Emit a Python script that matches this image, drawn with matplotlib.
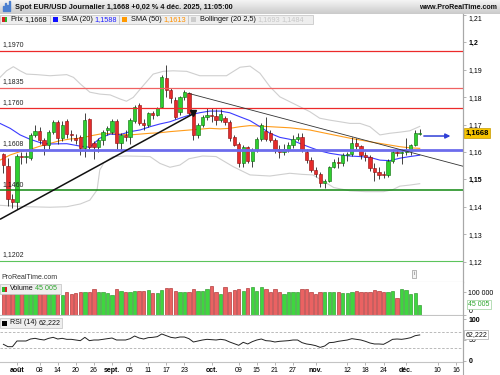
import numpy as np
import matplotlib.pyplot as plt
import matplotlib.transforms as mtrans
from matplotlib.colors import LinearSegmentedColormap
from matplotlib.patches import Rectangle

plt.rcParams['font.family'] = ['Liberation Sans', 'DejaVu Sans']

# ---- values (one candle per trading day, 29 juil. -> 4 déc.) ----
opens = [1.1592, 1.1550, 1.1428, 1.1418, 1.1586, 1.1580, 1.1577, 1.1662, 1.1677, 1.1643,
         1.1625, 1.1674, 1.1710, 1.1650, 1.1712, 1.1667, 1.1650, 1.1656, 1.1613, 1.1719,
         1.1631, 1.1617, 1.1643, 1.1680, 1.1674, 1.1713, 1.1631, 1.1662, 1.1653, 1.1713,
         1.1771, 1.1704, 1.1697, 1.1741, 1.1735, 1.1765, 1.1869, 1.1826, 1.1789, 1.1745,
         1.1801, 1.1814, 1.1741, 1.1662, 1.1698, 1.1728, 1.1733, 1.1730, 1.1718, 1.1723,
         1.1710, 1.1653, 1.1629, 1.1561, 1.1617, 1.1568, 1.1607, 1.1646, 1.1678, 1.1668,
         1.1643, 1.1609, 1.1600, 1.1612, 1.1625, 1.1648, 1.1656, 1.1601, 1.1570, 1.1534,
         1.1519, 1.1485, 1.1494, 1.1546, 1.1564, 1.1560, 1.1589, 1.1592, 1.1631, 1.1620,
         1.1590, 1.1581, 1.1540, 1.1527, 1.1519, 1.1515, 1.1566, 1.1600, 1.1596, 1.1598,
         1.1604, 1.1625, 1.1665]
highs = [1.1597, 1.1578, 1.1448, 1.1592, 1.1598, 1.1600, 1.1668, 1.1700, 1.1690, 1.1650,
         1.1680, 1.1718, 1.1718, 1.1712, 1.1720, 1.1680, 1.1665, 1.1662, 1.1743, 1.1722,
         1.1640, 1.1650, 1.1680, 1.1695, 1.1720, 1.1720, 1.1670, 1.1680, 1.1725, 1.1770,
         1.1780, 1.1720, 1.1745, 1.1750, 1.1765, 1.1880, 1.1918, 1.1835, 1.1800, 1.1805,
         1.1825, 1.1820, 1.1745, 1.1705, 1.1735, 1.1760, 1.1760, 1.1755, 1.1755, 1.1730,
         1.1715, 1.1660, 1.1635, 1.1625, 1.1620, 1.1615, 1.1655, 1.1705, 1.1726, 1.1680,
         1.1650, 1.1625, 1.1630, 1.1635, 1.1660, 1.1670, 1.1668, 1.1610, 1.1580, 1.1545,
         1.1525, 1.1500, 1.1550, 1.1575, 1.1580, 1.1595, 1.1600, 1.1655, 1.1652, 1.1625,
         1.1600, 1.1588, 1.1560, 1.1545, 1.1530, 1.1575, 1.1610, 1.1610, 1.1610, 1.1652,
         1.1630, 1.1680, 1.1684]
lows = [1.1522, 1.1402, 1.1395, 1.1390, 1.1555, 1.1558, 1.1570, 1.1655, 1.1630, 1.1590,
        1.1610, 1.1665, 1.1630, 1.1640, 1.1650, 1.1640, 1.1630, 1.1590, 1.1582, 1.1610,
        1.1573, 1.1600, 1.1625, 1.1660, 1.1665, 1.1610, 1.1605, 1.1640, 1.1630, 1.1705,
        1.1700, 1.1680, 1.1690, 1.1720, 1.1730, 1.1760, 1.1800, 1.1780, 1.1720, 1.1735,
        1.1790, 1.1735, 1.1643, 1.1650, 1.1690, 1.1715, 1.1710, 1.1700, 1.1710, 1.1700,
        1.1640, 1.1620, 1.1546, 1.1545, 1.1560, 1.1545, 1.1600, 1.1640, 1.1640, 1.1635,
        1.1595, 1.1578, 1.1590, 1.1600, 1.1615, 1.1640, 1.1600, 1.1560, 1.1525, 1.1510,
        1.1471, 1.1468, 1.1490, 1.1540, 1.1540, 1.1550, 1.1565, 1.1585, 1.1610, 1.1575,
        1.1565, 1.1530, 1.1492, 1.1502, 1.1505, 1.1510, 1.1560, 1.1585, 1.1555, 1.1590,
        1.1590, 1.1620, 1.1660]
closes = [1.1552, 1.1428, 1.1418, 1.1586, 1.1580, 1.1584, 1.1662, 1.1677, 1.1643, 1.1625,
          1.1674, 1.1710, 1.1650, 1.1700, 1.1667, 1.1662, 1.1645, 1.1613, 1.1716, 1.1619,
          1.1617, 1.1643, 1.1674, 1.1686, 1.1713, 1.1631, 1.1662, 1.1653, 1.1716, 1.1765,
          1.1704, 1.1697, 1.1741, 1.1735, 1.1759, 1.1874, 1.1826, 1.1796, 1.1728, 1.1801,
          1.1817, 1.1741, 1.1662, 1.1698, 1.1728, 1.1733, 1.1730, 1.1718, 1.1740, 1.1710,
          1.1650, 1.1625, 1.1561, 1.1617, 1.1568, 1.1607, 1.1646, 1.1698, 1.1648, 1.1643,
          1.1609, 1.1600, 1.1612, 1.1625, 1.1648, 1.1656, 1.1607, 1.1570, 1.1534, 1.1519,
          1.1485, 1.1494, 1.1546, 1.1564, 1.1560, 1.1589, 1.1592, 1.1631, 1.1620, 1.1590,
          1.1581, 1.1540, 1.1527, 1.1515, 1.1515, 1.1566, 1.1600, 1.1596, 1.1598, 1.1606,
          1.1625, 1.1668, 1.1668]

# volume in thousands
volumes = [94, 94, 94, 94, 94, 94, 94, 94, 94, 94,
           94, 94, 94, 87, 99, 91, 94, 99, 99, 99,
           112, 99, 99, 94, 87, 113, 104, 99, 99, 106,
           106, 104, 109, 94, 94, 109, 116, 116, 104, 99,
           101, 99, 113, 104, 104, 112, 126, 99, 91, 120,
           99, 109, 112, 104, 116, 120, 106, 120, 113, 101,
           112, 99, 91, 99, 99, 99, 113, 112, 99, 90,
           99, 99, 99, 99, 99, 94, 94, 99, 106, 99,
           99, 101, 109, 106, 101, 99, 104, 72, 113, 109,
           91, 94, 45.005]

rsi = [39.6, 33.9, 33.9, 47.6, 47.6, 47.6, 52.4, 54.0, 51.6, 50.0,
       54.0, 56.4, 52.4, 54.0, 51.6, 51.6, 50.0, 48.4, 56.4, 48.4,
       50.0, 50.0, 51.6, 53.2, 54.8, 50.0, 50.0, 50.0, 53.2, 59.6,
       54.8, 52.4, 55.6, 56.4, 58.0, 64.5, 60.4, 56.4, 54.8, 57.2,
       57.2, 53.2, 45.2, 47.6, 50.0, 51.6, 50.8, 50.0, 51.6, 50.0,
       45.2, 41.2, 37.2, 44.4, 40.4, 46.0, 50.0, 52.4, 48.4, 47.6,
       45.2, 46.8, 47.6, 48.4, 50.0, 50.0, 43.6, 40.4, 38.8, 36.4,
       32.3, 35.5, 43.6, 44.4, 46.8, 48.4, 50.0, 53.2, 51.6, 50.0,
       46.8, 42.8, 40.4, 40.4, 39.6, 45.2, 51.6, 52.4, 51.6, 53.2,
       55.6, 60.4, 62.2]

# indicator curves, sampled along the candle index
sma20_x = [-0.75, 1.5, 3.7, 5.9, 8.1, 10.3, 14, 17, 19.1, 21.3, 23.6, 25.8, 28, 30.2,
           32.4, 34.6, 36.8, 39, 41.2, 43.4, 45.6, 47.9, 50, 52.3, 54.5, 56.7, 58.9,
           61.1, 63.3, 65.5, 67.7, 69.9, 72.1, 74.4, 76.6, 78.8, 81, 83.2, 85.4, 87.6,
           89.8, 92]
sma20 = [1.1704, 1.1686, 1.1662, 1.1646, 1.1634, 1.1629, 1.1630, 1.1621, 1.1617, 1.1650,
         1.1665, 1.1663, 1.1674, 1.1680, 1.1692, 1.1702, 1.1710, 1.1723, 1.1735, 1.1743,
         1.1749, 1.1749, 1.1743, 1.1728, 1.1714, 1.1692, 1.1668, 1.1653, 1.1646, 1.1631,
         1.1617, 1.1604, 1.1595, 1.1589, 1.1585, 1.1583, 1.1580, 1.1570, 1.1568, 1.1577,
         1.1583, 1.1588]
sma50_x = [-0.75, 1.5, 3.7, 5.9, 8.1, 10.3, 12.5, 14.7, 17, 19.1, 21.3, 23.6, 25.8, 28,
           30.2, 32.4, 34.6, 36.8, 39, 41.2, 43.4, 45.6, 47.9, 50, 52.3, 54.5, 58.9, 63.3,
           67.7, 72.1, 76.6, 81, 85.4, 87.6, 89.8, 92]
sma50 = [1.1570, 1.1589, 1.1601, 1.1609, 1.1621, 1.1631, 1.1641, 1.1647, 1.1650, 1.1658,
         1.1665, 1.1667, 1.1665, 1.1662, 1.1665, 1.1668, 1.1670, 1.1674, 1.1677, 1.1680,
         1.1683, 1.1686, 1.1684, 1.1686, 1.1692, 1.1696, 1.1692, 1.1688, 1.1680, 1.1665,
         1.1650, 1.1637, 1.1625, 1.1619, 1.1615, 1.1613]
bb_up_x = [-0.75, 0.7, 2.2, 3.7, 5.1, 7.4, 10.3, 14, 15.5, 17, 19.1, 21.3, 23.6, 25.8,
           27.2, 28.7, 30.9, 33.1, 35.3, 37.5, 40.5, 43.4, 46.4, 49.3, 52.3, 54.5, 56.7,
           58.9, 61.1, 63.3, 65.5, 67.7, 69.9, 72.1, 74.4, 76.6, 78.8, 81, 83.2, 85.4,
           87.6, 89.8, 92]
bb_up = [1.1872, 1.1896, 1.1911, 1.1896, 1.1884, 1.1882, 1.1878, 1.1882, 1.1872, 1.1848,
         1.1818, 1.1811, 1.1808, 1.1793, 1.1785, 1.1799, 1.1842, 1.1884, 1.1894, 1.1896,
         1.1894, 1.1878, 1.1878, 1.1878, 1.1909, 1.1913, 1.1887, 1.1838, 1.1801, 1.1783,
         1.1765, 1.1747, 1.1723, 1.1716, 1.1710, 1.1704, 1.1704, 1.1692, 1.1662, 1.1668,
         1.1672, 1.1677, 1.1693]
bb_lo_x = [-0.75, 5.2, 10.3, 14, 17, 19.1, 20.7, 21.3, 22.2, 24.2, 27.3, 32.4, 34.6, 36.8,
           39, 41, 44, 47, 50.8, 54.5, 58.9, 63.3, 66, 68.4, 71, 73, 76.6, 80, 84, 86,
           87.6, 89.8, 92]
bb_lo = [1.1405, 1.1400, 1.1398, 1.1400, 1.1410, 1.1424, 1.1461, 1.1534, 1.1560, 1.1583,
         1.1585, 1.1583, 1.1558, 1.1544, 1.1552, 1.1575, 1.1585, 1.1583, 1.1546, 1.1516,
         1.1512, 1.1522, 1.1518, 1.1516, 1.1490, 1.1470, 1.1458, 1.1455, 1.1455, 1.1462,
         1.1475, 1.1479, 1.1484]

# drawn objects
levels = [1.1970, 1.1835, 1.1760, 1.1608, 1.1460, 1.1202]
level_labels = ['1,1970', '1,1835', '1,1760', '1,1608', '1,1460', '1,1202']
trend_up_x, trend_up_y = [-0.75, 41.96], [1.1354, 1.1739]
trend_dn_x, trend_dn_y = [40.85, 101.5], [1.18139, 1.1548]
arrow_x, arrow_y = [92.3, 99.4], [1.1658, 1.1658]

tick_idx = [3, 8, 12, 16, 20, 24, 28, 32, 36, 40, 46, 52, 56, 60, 64, 69, 76, 80, 84, 89, 96, 100]
tick_lbl = ['août', '08', '14', '20', '26', 'sept.', '05', '11', '17', '23', 'oct.', '09',
            '15', '21', '27', 'nov.', '12', '18', '24', 'déc.', '10', '16']
month_lbl = ['août', 'sept.', 'oct.', 'nov.', 'déc.']
price_ticks = [1.12, 1.13, 1.14, 1.15, 1.16, 1.17, 1.18, 1.19, 1.20, 1.21]
price_tick_lbl = ['1,12', '1,13', '1,14', '1,15', '1,16', '1,17', '1,18', '1,19', '1,2', '1,21']

last_price = 1.1668
last_vol = 45005
last_rsi = 62.222

W, H = 500, 375
XR = 462.7  # x pixel of the right axis line


def fx(px):
    return px / W


def fy(py):
    return 1 - py / H


o = np.array(opens); h = np.array(highs); l = np.array(lows); c = np.array(closes)
idx = np.arange(len(c))
up = c >= o
xlim = (-0.75, 101.5)
GRAY = '#a8a8a8'

fig = plt.figure(figsize=(5, 3.75), dpi=100)
fig.patch.set_facecolor('white')

# ---- title bar ----
tb = fig.add_axes([0, fy(14), 1, 14 / H])
grad = LinearSegmentedColormap.from_list('g', ['#f4f4f4', '#cbcbcb'])
tb.imshow(np.linspace(0, 1, 30).reshape(-1, 1), aspect='auto', cmap=grad, extent=[0, 1, 0, 1])
tb.set_axis_off()
for k, hh in enumerate([0.35, 0.6, 0.45, 0.75]):
    tb.add_patch(Rectangle((0.006 + k * 0.004, 0.2), 0.0025, hh, color='#4a7fd0'))
fig.text(fx(15), fy(7.5), 'Spot EUR/USD Journalier 1,1668 +0,02 % 4 déc. 2025, 11:05:00',
         fontsize=5.3, weight='bold', va='center', color='#111111')
fig.text(fx(497), fy(7.5), 'www.ProRealTime.com', fontsize=5.1, weight='bold', va='center',
         ha='right', color='#111111')

# ---- price panel ----
ax = fig.add_axes([0, fy(282), fx(XR), (282 - 14) / H])
ax.set_xlim(*xlim)
ax.set_ylim(1.11252, 1.21033)

ax.plot(bb_up_x, bb_up, color='#cfcfcf', lw=0.8, zorder=1)
ax.plot(bb_lo_x, bb_lo, color='#cfcfcf', lw=0.8, zorder=1)
ax.plot(sma50_x, sma50, color='#ff9c1a', lw=0.8, zorder=2)
ax.plot(sma20_x, sma20, color='#3b3bff', lw=0.8, zorder=2)

ax.vlines(idx, l, h, color='#222222', lw=0.6, zorder=3)
body = np.maximum(np.abs(c - o), 0.00012)
ax.bar(idx, body, bottom=np.minimum(o, c), width=0.72,
       color=np.where(up, '#2fcf2f', '#e52b2b'),
       edgecolor=np.where(up, '#0b6b0b', '#8c0b0b'), linewidth=0.4, zorder=4)

lv_col = ['#ec2a2a', '#f06262', '#ec2a2a', '#6c6cec', '#118811', '#5cc45c']
lv_lw = [0.9, 0.9, 0.9, 2.0, 1.1, 0.8]
ytr = mtrans.blended_transform_factory(ax.transAxes, ax.transData)
for v, s, col, lw in zip(levels, level_labels, lv_col, lv_lw):
    ax.axhline(v, color=col, lw=lw, zorder=5)
    ax.text(0.005, v + 0.0009, s, transform=ytr, fontsize=5, color='#222222',
            va='bottom', ha='left', zorder=6)

ax.plot(trend_up_x, trend_up_y, color='#111111', lw=1.1, zorder=6, solid_capstyle='butt')
ax.plot(trend_up_x[-1], trend_up_y[-1] + 0.0002, marker='v', color='#111111', ms=5, zorder=6)
ax.plot(trend_dn_x, trend_dn_y, color='#333333', lw=0.6, zorder=6)
ax.annotate('', xy=(arrow_x[1], arrow_y[1]), xytext=(arrow_x[0], arrow_y[0]),
            arrowprops=dict(arrowstyle='-|>', color='#2f3fd6', lw=1.1, mutation_scale=7),
            zorder=7)

ax.yaxis.tick_right()
ax.set_yticks(price_ticks)
ax.set_yticklabels(price_tick_lbl)
for t, v in zip(ax.get_yticklabels(), price_ticks):
    if v in (1.20, 1.15):
        t.set_fontweight('bold')
    if v == 1.21:
        t.set_va('top')
ax.tick_params(axis='y', direction='out', length=2.5, width=0.6, color=GRAY,
               labelsize=5, pad=1.5)
ax.set_xticks([])
for side in ('top', 'left'):
    ax.spines[side].set_visible(False)
ax.spines['right'].set_color(GRAY)
ax.spines['bottom'].set_color('#c4c4c4')
ax.spines['right'].set_linewidth(0.8)
ax.spines['bottom'].set_linewidth(0.8)

ax.text(1.006, last_price, '1,1668', transform=ytr, fontsize=5.5, weight='bold',
        va='center', ha='left', zorder=8, clip_on=False,
        bbox=dict(boxstyle='square,pad=0.18', fc='#f6c400', ec='#c79a00', lw=0.5))
ax.text(0.004, 0.018, 'ProRealTime.com', transform=ax.transAxes, fontsize=5,
        color='#333333', va='center')
ax.text(0.895, 0.03, 'i', transform=ax.transAxes, fontsize=4.5, color='#777777',
        va='center', ha='center',
        bbox=dict(boxstyle='square,pad=0.25', fc='#f4f4f4', ec='#999999', lw=0.5))


# legend boxes drawn in pixel coordinates of the figure
def legbox(x0, x1, y0, y1, fc='#eeeeee'):
    fig.patches.append(Rectangle((fx(x0), fy(y1)), fx(x1) - fx(x0), (y1 - y0) / H,
                                 transform=fig.transFigure, fc=fc, ec='#c0c0c0',
                                 lw=0.5, zorder=10))


def swatch(x0, y0, col, col2=None):
    fig.patches.append(Rectangle((fx(x0), fy(y0 + 5)), 5 / W, 5 / H,
                                 transform=fig.transFigure, fc=col, ec='none', zorder=11))
    if col2:
        fig.patches.append(Rectangle((fx(x0 + 2.5), fy(y0 + 5)), 2.5 / W, 5 / H,
                                     transform=fig.transFigure, fc=col2, ec='none', zorder=11))


def legtext(x, y, parts, size=5.3):
    xx = fx(x)
    r = fig.canvas.get_renderer()
    for s, col in parts:
        t = fig.text(xx, fy(y), s, fontsize=size, color=col, va='center', zorder=12)
        xx += t.get_window_extent(r).width / W + 1.5 / W


legbox(0, 50, 14.5, 24)
legbox(50, 119, 14.5, 24)
legbox(119, 188, 14.5, 24)
legbox(188, 313, 14.5, 24)
swatch(2, 17, '#d52020', '#2ab52a')
swatch(53, 17, '#1010ff')
swatch(122, 17, '#ff9900')
swatch(191, 17, '#cccccc')
legtext(10, 19.5, [('Prix', '#111111'), ('1,1668', '#111111')])
legtext(62, 19.5, [('SMA (20)', '#111111'), ('1,1588', '#2020ff')])
legtext(131, 19.5, [('SMA (50)', '#111111'), ('1,1613', '#ff9000')])
legtext(200, 19.5, [('Bollinger (20 2,5)', '#111111'), ('1,1693', '#c8c8c8'), ('1,1484', '#c8c8c8')])

# ---- volume panel ----
av = fig.add_axes([0, fy(315), fx(XR), 33 / H])
av.set_xlim(*xlim)
av.set_ylim(0, 143.5)
av.bar(idx, volumes, width=0.74, color=np.where(up, '#3fd63f', '#ea6262'),
       edgecolor=np.where(up, '#1e8e1e', '#a42020'), linewidth=0.4)
av.yaxis.tick_right()
av.set_yticks([0, 100])
av.set_yticklabels(['0', '100 000'])
av.get_yticklabels()[0].set_va('bottom')
av.tick_params(axis='y', direction='out', length=2.5, width=0.6, color=GRAY,
               labelsize=5, pad=1.5)
av.set_xticks([])
for side in ('top', 'left'):
    av.spines[side].set_visible(False)
av.spines['right'].set_color(GRAY)
av.spines['bottom'].set_color('#c4c4c4')
vtr = mtrans.blended_transform_factory(av.transAxes, av.transData)
av.text(1.012, last_vol / 1000, '45 005', transform=vtr, fontsize=5, color='#2aa52a',
        va='center', ha='left', clip_on=False,
        bbox=dict(boxstyle='square,pad=0.15', fc='white', ec='#9ad09a', lw=0.5))
legbox(0, 61, 284, 293.5)
swatch(2, 286.5, '#2ab52a', '#d52020')
legtext(10, 289, [('Volume', '#111111'), ('45 005', '#2aa52a')], size=5.1)

# ---- RSI panel ----
ar = fig.add_axes([0, fy(362), fx(XR), 46 / H])
ar.set_xlim(*xlim)
ar.set_ylim(-3, 107.8)
ar.axhline(70, color='#b0b0b0', lw=0.6, ls=(0, (3, 2)))
ar.axhline(30, color='#b0b0b0', lw=0.6, ls=(0, (3, 2)))
ar.plot(idx, rsi, color='#222222', lw=0.7)
ar.yaxis.tick_right()
ar.set_yticks([0, 50, 100])
ar.set_yticklabels(['0', '50', '100'])
ar.get_yticklabels()[2].set_fontweight('bold')
ar.get_yticklabels()[0].set_fontweight('bold')
ar.tick_params(axis='y', direction='out', length=2.5, width=0.6, color=GRAY,
               labelsize=5, pad=1.5)
ar.set_xticks(tick_idx)
ar.set_xticklabels(tick_lbl)
for t in ar.get_xticklabels():
    if t.get_text() in month_lbl:
        t.set_fontweight('bold')
ar.tick_params(axis='x', direction='out', length=2.5, width=0.6, color=GRAY,
               labelsize=5, pad=1)
for side in ('top', 'left'):
    ar.spines[side].set_visible(False)
ar.spines['right'].set_color(GRAY)
ar.spines['bottom'].set_color('#c4c4c4')
rtr = mtrans.blended_transform_factory(ar.transAxes, ar.transData)
ar.text(1.006, last_rsi, '62,222', transform=rtr, fontsize=5, color='#111111',
        va='center', ha='left', clip_on=False,
        bbox=dict(boxstyle='square,pad=0.15', fc='white', ec='#aaaaaa', lw=0.5))
legbox(0, 62, 318, 327.5)
swatch(2, 320.5, '#000000')
legtext(10, 323, [('RSI (14)', '#111111'), ('62,222', '#111111')], size=5.1)

# right axis line through all panels
fig.add_artist(plt.Line2D([fx(XR), fx(XR)], [0, fy(14)], transform=fig.transFigure,
                          color=GRAY, lw=0.8))

fig.savefig('out.png', dpi=100)
